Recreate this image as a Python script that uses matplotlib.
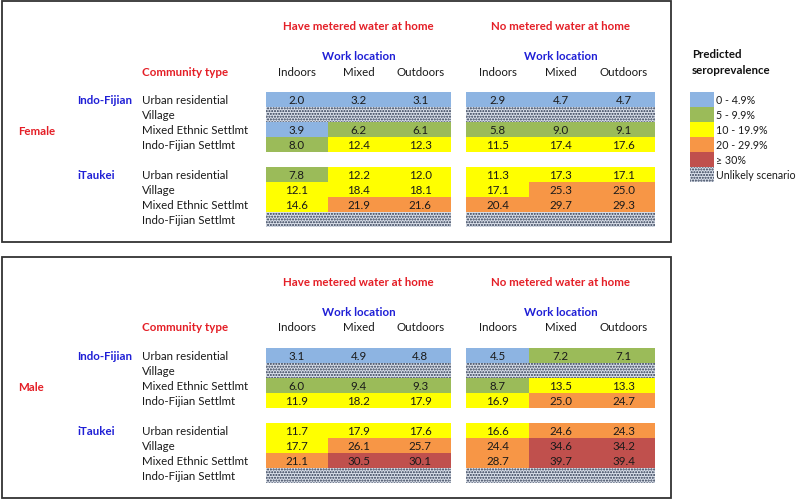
import numpy as np
import matplotlib.pyplot as plt
from matplotlib.patches import Rectangle

plt.rcParams['font.family'] = ['Lato', 'DejaVu Sans']

# Datos: valores predichos (None = escenario poco probable)
sexes = ['Female', 'Male']
ethnic_groups = ['Indo-Fijian', 'iTaukei']
community_types = ['Urban residential', 'Village', 'Mixed Ethnic Settlmt', 'Indo-Fijian Settlmt']
work_locations = ['Indoors', 'Mixed', 'Outdoors']
water_groups = ['Have metered water at home', 'No metered water at home']

female_metered = [
    [2.0, 3.2, 3.1], None, [3.9, 6.2, 6.1], [8.0, 12.4, 12.3],
    [7.8, 12.2, 12.0], [12.1, 18.4, 18.1], [14.6, 21.9, 21.6], None,
]
female_no_meter = [
    [2.9, 4.7, 4.7], None, [5.8, 9.0, 9.1], [11.5, 17.4, 17.6],
    [11.3, 17.3, 17.1], [17.1, 25.3, 25.0], [20.4, 29.7, 29.3], None,
]
male_metered = [
    [3.1, 4.9, 4.8], None, [6.0, 9.4, 9.3], [11.9, 18.2, 17.9],
    [11.7, 17.9, 17.6], [17.7, 26.1, 25.7], [21.1, 30.5, 30.1], None,
]
male_no_meter = [
    [4.5, 7.2, 7.1], None, [8.7, 13.5, 13.3], [16.9, 25.0, 24.7],
    [16.6, 24.6, 24.3], [24.4, 34.6, 34.2], [28.7, 39.7, 39.4], None,
]
panels = [[female_metered, female_no_meter], [male_metered, male_no_meter]]

legend_labels = ['0 - 4.9%', '5 - 9.9%', '10 - 19.9%', '20 - 29.9%', '\u2265 30%', 'Unlikely scenario']
bin_edges = [5, 10, 20, 30]
bin_colors = ['#8DB4E2', '#9BBB59', '#FFFF00', '#F79646', '#C0504D']

RED = '#E41E26'
BLUE = '#1F1FD6'
TXT = '#1A1A1A'
FS = 8.3
plt.rcParams['hatch.linewidth'] = 1.0
HATCH = dict(facecolor='#DCE2EC', edgecolor='#28344C', hatch='......', linewidth=0)


def cell_color(v):
    return bin_colors[int(np.searchsorted(bin_edges, v, side='right'))]


fig = plt.figure(figsize=(8, 5.02), dpi=100)
ax = fig.add_axes([0, 0, 1, 1])
ax.set_xlim(0, 800)
ax.set_ylim(502, 0)
ax.axis('off')

# layout (pixeles)
table_x = [266, 466]
col_w = [61.7, 63]
row_h = 15
panel_dy = 256

for p, sex in enumerate(sexes):
    y0 = 2 + p * panel_dy
    ax.add_patch(Rectangle((2, y0), 669, 241, fill=False, edgecolor='#333333', linewidth=1.3))
    ax.text(18, y0 + 129.5, sex, color=RED, fontsize=FS, fontweight='bold', va='center')
    ax.text(142, y0 + 70, 'Community type', color=RED, fontsize=FS, fontweight='bold', va='center')

    for g, grp in enumerate(ethnic_groups):
        gy = y0 + 91 + g * 75
        ax.text(77, gy + 7.5, grp, color=BLUE, fontsize=FS, fontweight='bold', va='center')
        for r, ct in enumerate(community_types):
            ax.text(142, gy + r * row_h + 7.5, ct, color=TXT, fontsize=FS, va='center')

    for t, wg in enumerate(water_groups):
        tx = table_x[t]
        cw = col_w[t]
        cx = tx + 1.5 * cw
        ax.text(cx, y0 + 25, wg, color=RED, fontsize=FS, fontweight='bold', ha='center', va='center')
        ax.text(cx, y0 + 55, 'Work location', color=BLUE, fontsize=FS, fontweight='bold', ha='center', va='center')
        for c, wl in enumerate(work_locations):
            ax.text(tx + (c + 0.5) * cw, y0 + 70, wl, color=TXT, fontsize=FS, ha='center', va='center')

        data = panels[p][t]
        for i, row in enumerate(data):
            g, r = divmod(i, 4)
            ry = y0 + 91 + g * 75 + r * row_h
            if row is None:
                ax.add_patch(Rectangle((tx, ry), 3 * cw, row_h, **HATCH))
                continue
            for c, v in enumerate(row):
                ax.add_patch(Rectangle((tx + c * cw, ry), cw + 0.3, row_h + 0.3,
                                       facecolor=cell_color(v), linewidth=0))
                ax.text(tx + (c + 0.5) * cw, ry + 7.5, f'{v:.1f}', color=TXT, fontsize=FS,
                        ha='center', va='center')

# leyenda
ax.text(692, 55, 'Predicted', color='#111111', fontsize=FS, fontweight='bold', va='center')
ax.text(692, 70, 'seroprevalence', color='#111111', fontsize=FS, fontweight='bold', va='center')
for k, lab in enumerate(legend_labels):
    ly = 93 + k * row_h
    if k < len(bin_colors):
        ax.add_patch(Rectangle((690, ly), 24, row_h, facecolor=bin_colors[k], linewidth=0))
    else:
        ax.add_patch(Rectangle((690, ly), 24, row_h, **HATCH))
    ax.text(715.5, ly + 7.5, lab, color=TXT, fontsize=7.7, va='center')

fig.savefig('out.png', dpi=100)
